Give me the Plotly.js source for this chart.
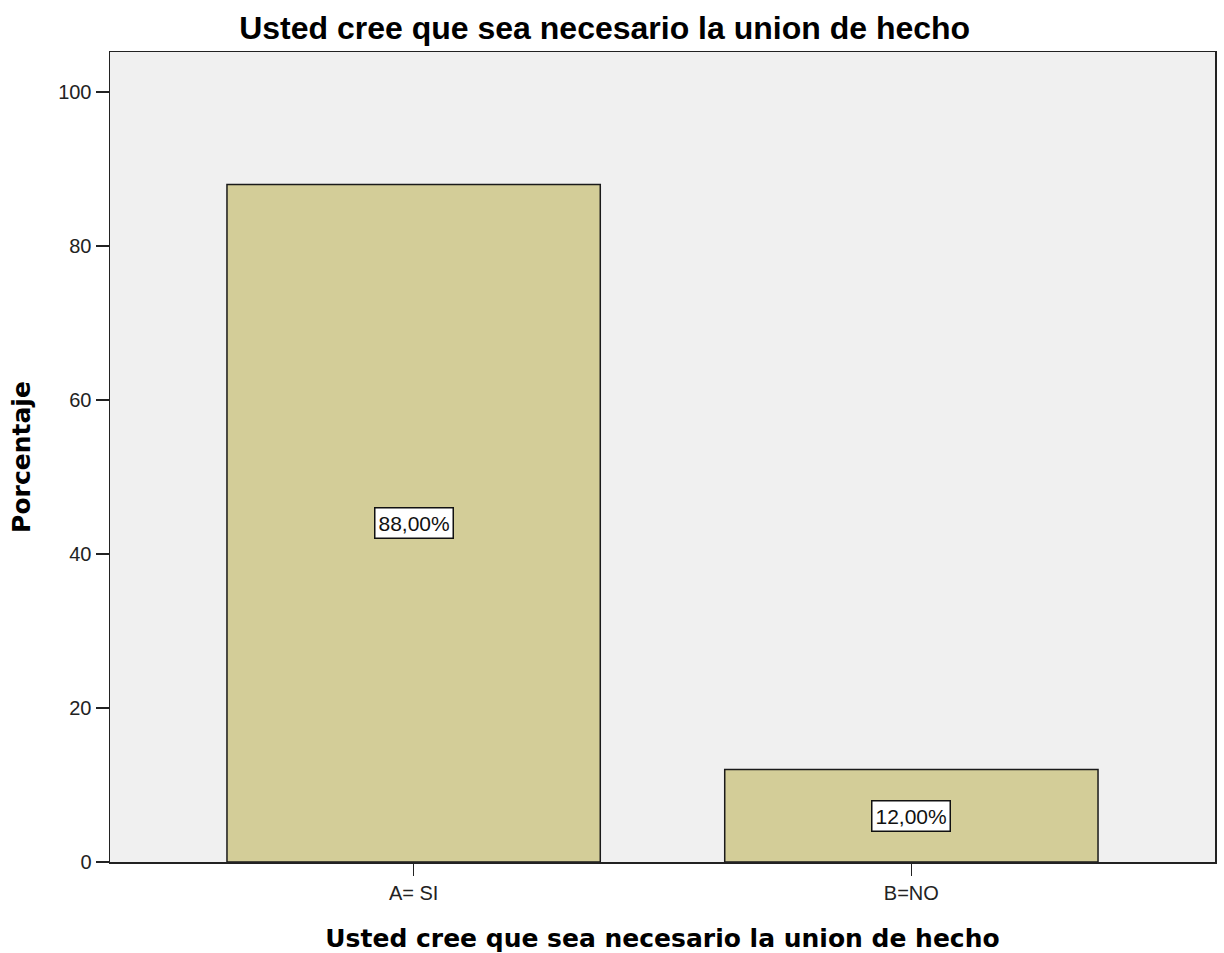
<!DOCTYPE html>
<html>
<head>
<meta charset="utf-8">
<script src="https://cdn.plot.ly/plotly-3.0.1.min.js"></script>
<style>html,body{margin:0;padding:0;background:#fff;}#chart{width:1224px;height:953px;}</style>
</head>
<body>
<div id="chart"></div>
<script>
const categories = ["A= SI", "B=NO"];
const percentages = [88.0, 12.0];
const valueLabels = ["88,00%", "12,00%"];
const yTicks = [0, 20, 40, 60, 80, 100];
const chartTitle = "Usted cree que sea necesario la union de hecho";
const xTitle = "Usted cree que sea necesario la union de hecho";
const yTitle = "Porcentaje";

const trace = {
  type: "bar",
  x: categories,
  y: percentages,
  width: 0.75,
  marker: { color: "#d3cd98", line: { color: "#1a1a1a", width: 1.5 } },
  hoverinfo: "none"
};

const annotations = categories.map((c, i) => ({
  x: c, y: percentages[i] / 2, xref: "x", yref: "y",
  text: valueLabels[i], showarrow: false,
  font: { family: "Liberation Sans, Arial, sans-serif", size: 21, color: "#111" },
  bgcolor: "#ffffff", bordercolor: "#111", borderwidth: 1.5, borderpad: 3
}));

const layout = {
  width: 1224, height: 953,
  margin: { l: 110, r: 9, t: 52, b: 91 },
  paper_bgcolor: "#ffffff",
  plot_bgcolor: "#f0f0f0",
  showlegend: false,
  title: {
    text: chartTitle,
    font: { family: "Liberation Sans, Arial, sans-serif", size: 32, color: "#000", weight: "bold" },
    xref: "container", x: 0.494, xanchor: "center",
    yref: "container", y: 1 - 28 / 953, yanchor: "middle"
  },
  xaxis: {
    type: "category",
    range: [-0.61, 1.61],
    showgrid: false, zeroline: false,
    showline: true, linecolor: "#222", linewidth: 1.5, mirror: true,
    ticks: "outside", ticklen: 12, tickwidth: 1.5, tickcolor: "#222",
    tickfont: { family: "Liberation Sans, Arial, sans-serif", size: 20, color: "#222" },
    title: { text: xTitle, font: { family: "DejaVu Sans, sans-serif", size: 25, color: "#000", weight: "bold" }, standoff: 28 }
  },
  yaxis: {
    range: [0, 105.2],
    tickvals: yTicks,
    showgrid: false, zeroline: false,
    showline: true, linecolor: "#222", linewidth: 1.5, mirror: true,
    ticks: "outside", ticklen: 13, tickwidth: 1.5, tickcolor: "#222",
    tickfont: { family: "Liberation Sans, Arial, sans-serif", size: 20, color: "#222" },
    title: { text: yTitle, font: { family: "DejaVu Sans, sans-serif", size: 25, color: "#000", weight: "bold" }, standoff: 20 }
  },
  annotations: annotations
};

Plotly.newPlot("chart", [trace], layout, { displayModeBar: false, staticPlot: true });
</script>
</body>
</html>
